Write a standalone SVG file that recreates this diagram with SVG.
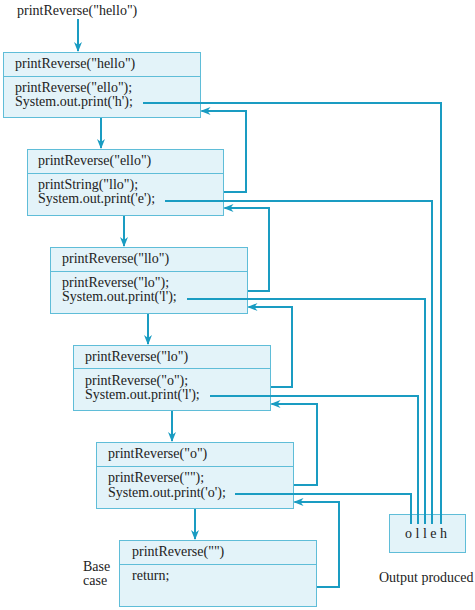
<svg xmlns="http://www.w3.org/2000/svg" width="475" height="610" viewBox="0 0 475 610">
<style>
.box{fill:#e3f3f9;stroke:#5fbdd8;stroke-width:1}
.div{stroke:#5fbdd8;stroke-width:1}
.t{font-family:"Liberation Serif","Times New Roman",serif;font-size:14px;fill:#222}
.c{fill:none;stroke:#1a9cc2;stroke-width:2}
.a{marker-end:url(#ah)}
</style>
<defs>
<marker id="ah" viewBox="0 0 10 8" refX="9" refY="4" markerWidth="10" markerHeight="8" markerUnits="userSpaceOnUse" orient="auto">
<path d="M0,0 L10,4 L0,8 L3,4 z" fill="#1a9cc2"/>
</marker>
</defs>
<rect width="475" height="610" fill="#fff"/>
<text class="t" x="17" y="15">printReverse("hello")</text>
<g id="box1">
<rect class="box" x="3.5" y="52.5" width="197" height="65"/>
<line class="div" x1="3.5" y1="76.5" x2="200.5" y2="76.5"/>
<text class="t" x="15" y="68">printReverse("hello")</text>
<text class="t" x="15" y="92">printReverse("ello");</text>
<text class="t" x="15" y="106">System.out.print('h');</text>
</g>
<g id="box2">
<rect class="box" x="27.5" y="149.5" width="196" height="66"/>
<line class="div" x1="27.5" y1="173.5" x2="223.5" y2="173.5"/>
<text class="t" x="38" y="165">printReverse("ello")</text>
<text class="t" x="38" y="189">printString("llo");</text>
<text class="t" x="38" y="203">System.out.print('e');</text>
</g>
<g id="box3">
<rect class="box" x="50.5" y="247.5" width="197" height="66"/>
<line class="div" x1="50.5" y1="271.5" x2="247.5" y2="271.5"/>
<text class="t" x="62" y="263">printReverse("llo")</text>
<text class="t" x="62" y="287">printReverse("lo");</text>
<text class="t" x="62" y="301">System.out.print('l');</text>
</g>
<g id="box4">
<rect class="box" x="73.5" y="345.5" width="197" height="65"/>
<line class="div" x1="73.5" y1="368.5" x2="270.5" y2="368.5"/>
<text class="t" x="85" y="361">printReverse("lo")</text>
<text class="t" x="85" y="385">printReverse("o");</text>
<text class="t" x="85" y="399">System.out.print('l');</text>
</g>
<g id="box5">
<rect class="box" x="96.5" y="442.5" width="197" height="66"/>
<line class="div" x1="96.5" y1="466.5" x2="293.5" y2="466.5"/>
<text class="t" x="108" y="458">printReverse("o")</text>
<text class="t" x="108" y="482">printReverse("");</text>
<text class="t" x="108" y="497">System.out.print('o');</text>
</g>
<g id="box6">
<rect class="box" x="119.5" y="540.5" width="197" height="66"/>
<line class="div" x1="119.5" y1="564.5" x2="316.5" y2="564.5"/>
<text class="t" x="132" y="556">printReverse("")</text>
<text class="t" x="132" y="580">return;</text>
</g>
<g id="basecase">
<text class="t" x="83" y="571">Base</text>
<text class="t" x="83" y="585">case</text>
</g>
<g id="output">
<rect class="box" x="389.5" y="514.5" width="76" height="38"/>
<text class="t" x="426" y="538" text-anchor="middle" font-size="12.5">o l l e h</text>
<text class="t" x="379" y="582">Output produced</text>
</g>
<g id="connectors">
<path class="c a" d="M78,19 V51"/>
<path class="c a" d="M101,118 V148"/>
<path class="c a" d="M124,216 V246"/>
<path class="c a" d="M148,314 V344"/>
<path class="c a" d="M172,411 V441"/>
<path class="c a" d="M195,509 V539"/>
<path class="c" d="M143,103 H441 V524"/>
<path class="c" d="M165,201 H432 V524"/>
<path class="c" d="M187,299 H425 V524"/>
<path class="c" d="M210,396 H418 V524"/>
<path class="c" d="M235,494 H411 V524"/>
<path class="c a" d="M224,192 H246 V111 H201.5"/>
<path class="c a" d="M248,291 H269 V208 H224.5"/>
<path class="c a" d="M271,387 H292 V307 H248.5"/>
<path class="c a" d="M294,485 H317 V404 H271.5"/>
<path class="c a" d="M317,587 H339 V502 H294.5"/>
</g>
</svg>
